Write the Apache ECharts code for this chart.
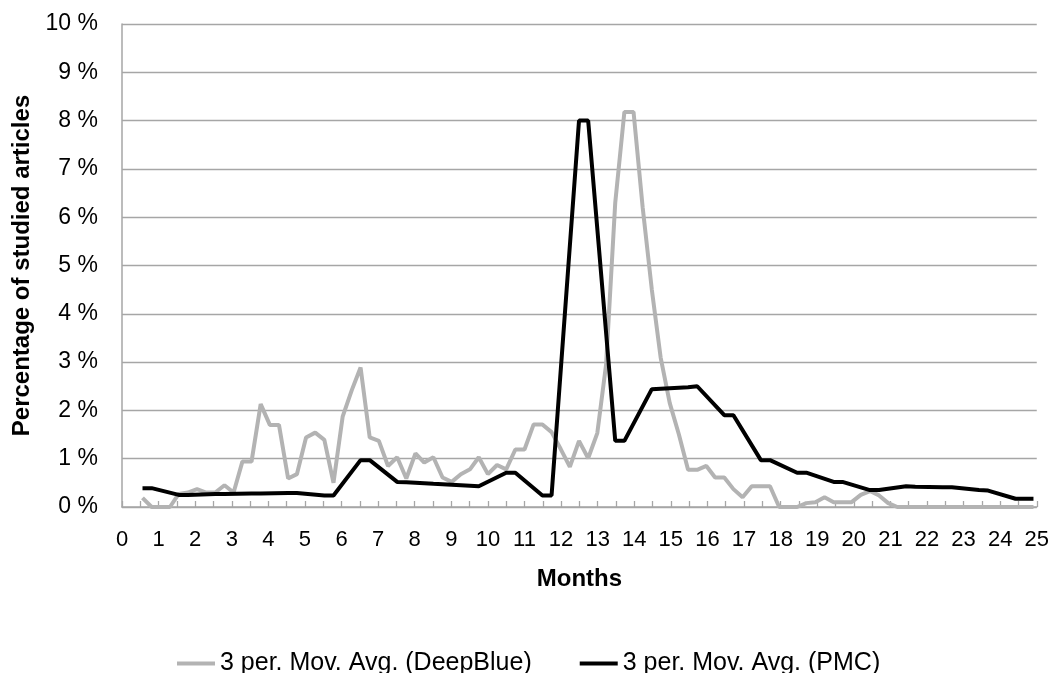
<!DOCTYPE html>
<html>
<head>
<meta charset="utf-8">
<script src="https://cdn.jsdelivr.net/npm/echarts@6/dist/echarts.min.js"></script>
<style>
html,body{margin:0;padding:0;background:#fff;}
#chart{width:1052px;height:673px;}
</style>
</head>
<body>
<div id="chart"></div>
<script>
// Months (x) and percentage (y) for the DeepBlue moving average
var deepBlueX = [0.56,0.81,1.06,1.31,1.55,1.80,2.05,2.30,2.55,2.80,3.05,3.29,3.54,3.79,4.04,4.29,4.54,4.78,5.03,5.28,
  5.53,5.78,6.03,6.28,6.52,6.77,7.02,7.27,7.52,7.77,8.02,8.26,8.51,8.76,9.01,9.26,9.51,9.75,10.00,10.25,
  10.50,10.75,11.00,11.25,11.49,11.74,11.99,12.24,12.49,12.74,12.99,13.23,13.48,13.73,13.98,14.23,14.48,14.72,14.97,15.22,
  15.47,15.72,15.97,16.21,16.46,16.71,16.96,17.21,17.46,17.71,17.96,18.20,18.45,18.70,18.95,19.20,19.45,19.69,19.94,20.19,
  20.44,20.69,20.94,21.19,21.43,21.68,21.93,22.18,22.43,22.68,22.92,23.17,23.42,23.67,23.92,24.17,24.42,24.66,24.91];
var deepBlueY = [0.19,0,0,0,0.27,0.30,0.37,0.30,0.30,0.45,0.30,0.94,0.94,2.13,1.70,1.70,0.59,0.68,1.44,1.54,
  1.39,0.50,1.87,2.42,2.89,1.44,1.37,0.85,1.03,0.59,1.11,0.92,1.03,0.61,0.52,0.68,0.78,1.03,0.68,0.87,
  0.78,1.19,1.19,1.71,1.71,1.55,1.20,0.83,1.37,1.01,1.53,2.95,6.30,8.18,8.18,6.20,4.50,3.10,2.15,1.50,
  0.77,0.77,0.85,0.61,0.61,0.37,0.20,0.43,0.43,0.43,0,0,0,0.08,0.10,0.20,0.10,0.10,0.10,0.25,
  0.33,0.24,0.08,0,0,0,0,0,0,0,0,0,0,0,0,0,0,0,0];

// Months (x) and percentage (y) for the PMC moving average
var pmcX = [0.56,0.81,1.55,1.80,2.55,2.80,3.54,3.79,4.54,4.78,5.53,5.78,6.52,6.77,7.52,7.77,8.51,8.76,9.51,9.75,
  10.50,10.75,11.49,11.74,12.49,12.74,13.48,13.73,14.48,14.72,15.47,15.72,16.46,16.71,17.46,17.71,18.45,18.70,19.45,19.69,
  20.44,20.69,21.43,21.68,22.43,22.68,23.42,23.67,24.42,24.66,24.91];
var pmcY = [0.39,0.39,0.25,0.25,0.27,0.27,0.28,0.28,0.29,0.29,0.24,0.24,0.97,0.97,0.52,0.51,0.48,0.47,0.44,0.43,
  0.71,0.71,0.24,0.24,8.00,8.00,1.37,1.37,2.44,2.45,2.48,2.50,1.90,1.90,0.97,0.97,0.71,0.71,0.52,0.52,
  0.35,0.35,0.43,0.42,0.41,0.41,0.35,0.34,0.17,0.17,0.17];

var seriesNames = ['3 per. Mov. Avg. (DeepBlue)', '3 per. Mov. Avg. (PMC)'];
var xTitle = 'Months';
var yTitle = 'Percentage of studied articles';

function pairs(xs, ys) { return xs.map(function (x, i) { return [x, ys[i]]; }); }

var FONT = '"Liberation Sans", Arial, sans-serif';
var chart = echarts.init(document.getElementById('chart'), null, {renderer: 'canvas'});
chart.setOption({
  backgroundColor: '#ffffff',
  animation: false,
  grid: {left: 122, right: 11, top: 24, bottom: 166, containLabel: false},
  legend: {
    left: 172, top: 646,
    itemWidth: 38, itemHeight: 4, itemGap: 48,
    icon: 'rect',
    textStyle: {fontFamily: FONT, fontSize: 25, color: '#000'},
    data: seriesNames
  },
  xAxis: {
    type: 'value', min: 0, max: 25, interval: 0.5,
    name: xTitle, nameLocation: 'middle', nameGap: 60,
    nameTextStyle: {fontFamily: FONT, fontSize: 24, fontWeight: 'bold', color: '#000'},
    axisLine: {show: true, lineStyle: {color: '#a6a6a6', width: 1.5}},
    axisTick: {show: true, inside: true, length: 6, lineStyle: {color: '#a6a6a6', width: 1.3}},
    axisLabel: {
      fontFamily: FONT, fontSize: 22, color: '#000', margin: 22,
      formatter: function (v) { return Math.abs(v - Math.round(v)) < 1e-6 ? String(Math.round(v)) : ''; }
    },
    splitLine: {show: false}
  },
  yAxis: {
    type: 'value', min: 0, max: 10, interval: 1,
    name: yTitle, nameLocation: 'middle', nameGap: 84, nameRotate: 90,
    nameTextStyle: {fontFamily: FONT, fontSize: 24, fontWeight: 'bold', color: '#000'},
    axisLine: {show: true, lineStyle: {color: '#a6a6a6', width: 1.5}},
    axisTick: {show: false},
    axisLabel: {fontFamily: FONT, fontSize: 23, color: '#000', margin: 24, formatter: '{value} %'},
    splitLine: {show: true, lineStyle: {color: '#a6a6a6', width: 1.3}}
  },
  series: [
    {
      name: seriesNames[0], type: 'line', data: pairs(deepBlueX, deepBlueY),
      showSymbol: false, symbol: 'none',
      lineStyle: {color: '#b3b3b3', width: 4}, itemStyle: {color: '#b3b3b3'}, z: 2
    },
    {
      name: seriesNames[1], type: 'line', data: pairs(pmcX, pmcY),
      showSymbol: false, symbol: 'none',
      lineStyle: {color: '#000000', width: 4}, itemStyle: {color: '#000000'}, z: 3
    }
  ]
});
</script>
</body>
</html>
